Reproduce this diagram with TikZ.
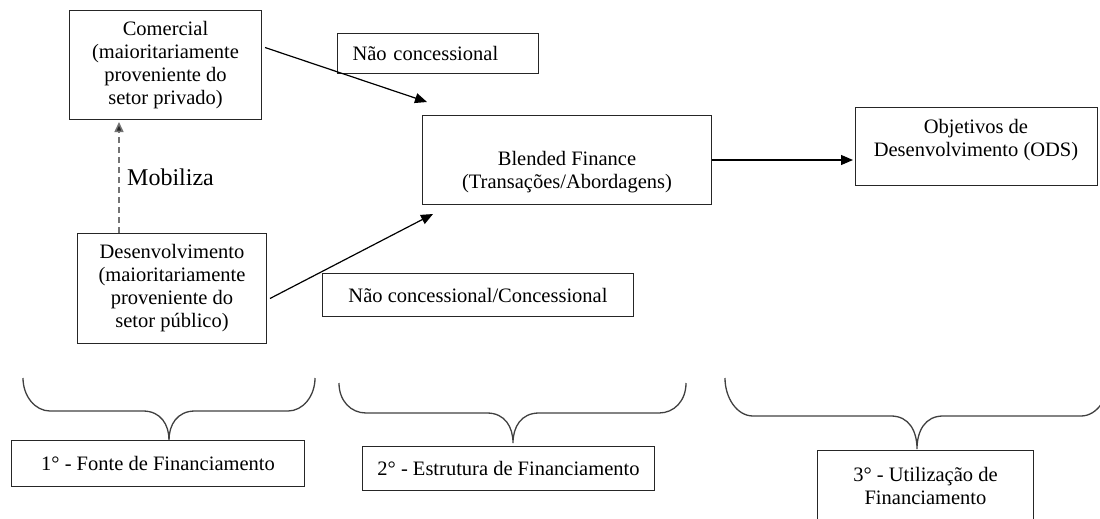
\documentclass[tikz,border=0pt]{standalone}
\usepackage{fontspec}
\setmainfont{Liberation Serif}
\usetikzlibrary{arrows.meta}
\begin{document}
\begin{tikzpicture}[x=1pt,y=-1pt,
  box/.style={draw=black!85, line width=1pt, inner sep=0pt, align=center, font=\fontsize{20.5}{23}\selectfont},
  txt/.style={inner sep=0pt, align=center, font=\fontsize{20.5}{23}\selectfont},
  arr/.style={draw=black, line width=1.2pt, -{Triangle[length=12pt,width=10pt]}},
  dasharr/.style={draw=black!55, line width=1.5pt, dash pattern=on 6pt off 4pt, -{Triangle[length=10pt,width=9pt,fill=black!85]}},
  bracestyle/.style={draw=black!75, line width=1.3pt},
]
\useasboundingbox (0,0) rectangle (1100,519);
\clip (0,0) rectangle (1100,519);

% boxes
\node[box, anchor=north west, minimum width=192, minimum height=109] (com) at (69,10)
  {Comercial\\(maioritariamente\\proveniente do\\setor privado)};
\node[box, anchor=north west, minimum width=189, minimum height=110] (dev) at (77,233)
  {Desenvolvimento\\(maioritariamente\\proveniente do\\setor público)};
\node[box, anchor=north west, minimum width=201, minimum height=40, text width=171, inner xsep=15pt, align=left] (nc) at (337,33)
  {Não concessional};
\node[box, anchor=north west, minimum width=311, minimum height=43] (ncc) at (322,273)
  {Não concessional/Concessional};
\node[box, anchor=north west, minimum width=289, minimum height=89] (bf) at (422,115) {};
\node[txt] (bft) at (567,172.5) {Blended Finance\\(Transações/Abordagens)};
\node[box, anchor=north west, minimum width=242, minimum height=78] (ods) at (855,107) {};
\node[txt] (odst) at (976,140.5) {Objetivos de\\Desenvolvimento (ODS)};

\node[box, anchor=north west, minimum width=293, minimum height=46] (b1) at (11,440)
  {1° - Fonte de Financiamento};
\node[box, anchor=north west, minimum width=292, minimum height=44] (b2) at (362,446)
  {2° - Estrutura de Financiamento};
\node[box, anchor=north west, minimum width=216, minimum height=71] (b3) at (817,450)
  {3° - Utilização de\\Financiamento};

\node[inner sep=0pt, anchor=west, font=\fontsize{24}{28}\selectfont] (mob) at (127,177) {Mobiliza};

% connectors
\draw[arr] ([shift={(3,-17.5)}]com.east) -- ([shift={(5,-13)}]bf.north west);
\draw[arr] ([shift={(3,10)}]dev.east) -- ([shift={(11,9)}]bf.south west);
\draw[arr] (bf.east) -- ([xshift=-2pt]ods.west |- bf.east);
\draw[dasharr] ([shift={(42,0)}]dev.north west) -- ([shift={(50,2)}]com.south west);

% braces
\draw[bracestyle] (23,378) .. controls (23,396) and (35,411) .. (50,411) -- (143,411)
  .. controls (161,411) and (169,425) .. (169,440)
  .. controls (169,425) and (177,411) .. (195,411) -- (288,411)
  .. controls (303,411) and (315,396) .. (315,378);
\draw[bracestyle] (339,383) .. controls (339,401) and (351,413) .. (366,413) -- (487,413)
  .. controls (505,413) and (513,427) .. (513,443)
  .. controls (513,427) and (521,413) .. (539,413) -- (659,413)
  .. controls (674,413) and (686,401) .. (686,383);
\draw[bracestyle] (725,378) .. controls (725,398) and (737,416) .. (753,416) -- (891,416)
  .. controls (909,416) and (917,431) .. (917,449)
  .. controls (917,431) and (925,416) .. (943,416) -- (1081,416)
  .. controls (1097,416) and (1109,398) .. (1109,378);
\end{tikzpicture}
\end{document}
